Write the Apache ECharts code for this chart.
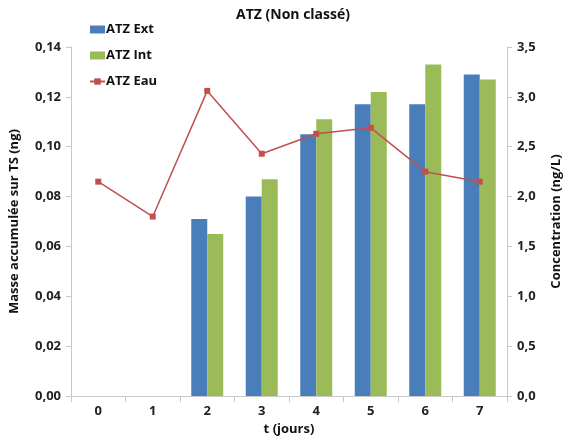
<!DOCTYPE html>
<html><head><meta charset="utf-8">
<script src="https://cdn.jsdelivr.net/npm/echarts@6/dist/echarts.min.js"></script>
<style>html,body{margin:0;padding:0;background:#fff}#c{width:571px;height:441px}</style>
</head><body><div id="c"></div>
<script>
var categories = ['0','1','2','3','4','5','6','7'];
var atzExt = [null, null, 0.071, 0.080, 0.105, 0.117, 0.117, 0.129];
var atzInt = [null, null, 0.065, 0.087, 0.111, 0.122, 0.133, 0.127];
var atzEau = [2.15, 1.80, 3.06, 2.43, 2.63, 2.69, 2.25, 2.15];

var F = '"Open Sans", "Liberation Sans", sans-serif';
var chart = echarts.init(document.getElementById('c'), null, {renderer:'canvas'});
var axisLineStyle = {lineStyle:{color:'#c8c8c8', width:1}};
var lbl = {color:'#222', fontFamily:F, fontWeight:'bold', fontSize:13};
chart.setOption({
  animation:false,
  title:{text:'ATZ (Non classé)', left:288, top:3, textAlign:'center',
    textStyle:{fontFamily:F, fontWeight:'bold', fontSize:14, color:'#111'}},
  legend:{orient:'vertical', left:84, top:18, itemGap:13, itemWidth:15, itemHeight:8,
    textStyle:{fontFamily:F, fontWeight:'bold', fontSize:13, color:'#111', padding:[0,0,0,-4]},
    data:[{name:'ATZ Ext', icon:'rect'},{name:'ATZ Int', icon:'rect'},{name:'ATZ Eau'}]},
  grid:{left:70, right:58, top:47, bottom:42},
  xAxis:{type:'category', data:categories, name:'t (jours)', nameLocation:'middle', nameGap:26,
    nameTextStyle:{fontFamily:F, fontWeight:'bold', fontSize:13, color:'#111'},
    axisLine:axisLineStyle, axisTick:{show:true, length:6, lineStyle:{color:'#c8c8c8'}},
    axisLabel:Object.assign({margin:9}, lbl)},
  yAxis:[
    {type:'value', min:0, max:0.14, interval:0.02, name:'Masse accumulée sur TS (ng)',
     nameLocation:'middle', nameGap:50, nameRotate:90,
     nameTextStyle:{fontFamily:F, fontWeight:'bold', fontSize:13, color:'#111'},
     axisLine:Object.assign({show:true}, axisLineStyle), axisTick:{show:true, length:5, lineStyle:{color:'#c8c8c8'}},
     splitLine:{show:false},
     axisLabel:Object.assign({margin:10, formatter:function(v){return v.toFixed(2).replace('.',',');}}, lbl)},
    {type:'value', min:0, max:3.5, interval:0.5, name:'Concentration (ng/L)',
     nameLocation:'middle', nameGap:43, nameRotate:90,
     nameTextStyle:{fontFamily:F, fontWeight:'bold', fontSize:13, color:'#111'},
     axisLine:Object.assign({show:true}, axisLineStyle), axisTick:{show:true, length:5, lineStyle:{color:'#c8c8c8'}},
     splitLine:{show:false},
     axisLabel:Object.assign({margin:10, formatter:function(v){return v.toFixed(1).replace('.',',');}}, lbl)}
  ],
  series:[
    {name:'ATZ Ext', type:'bar', data:atzExt, barWidth:16, barGap:'0%', itemStyle:{color:'#4a7ebb'}},
    {name:'ATZ Int', type:'bar', data:atzInt, barWidth:16, barGap:'0%', itemStyle:{color:'#9bbb59'}},
    {name:'ATZ Eau', type:'line', yAxisIndex:1, data:atzEau, symbol:'rect', symbolSize:6,
     lineStyle:{color:'#c0504d', width:1.5}, itemStyle:{color:'#c0504d'}}
  ]
});
</script></body></html>
